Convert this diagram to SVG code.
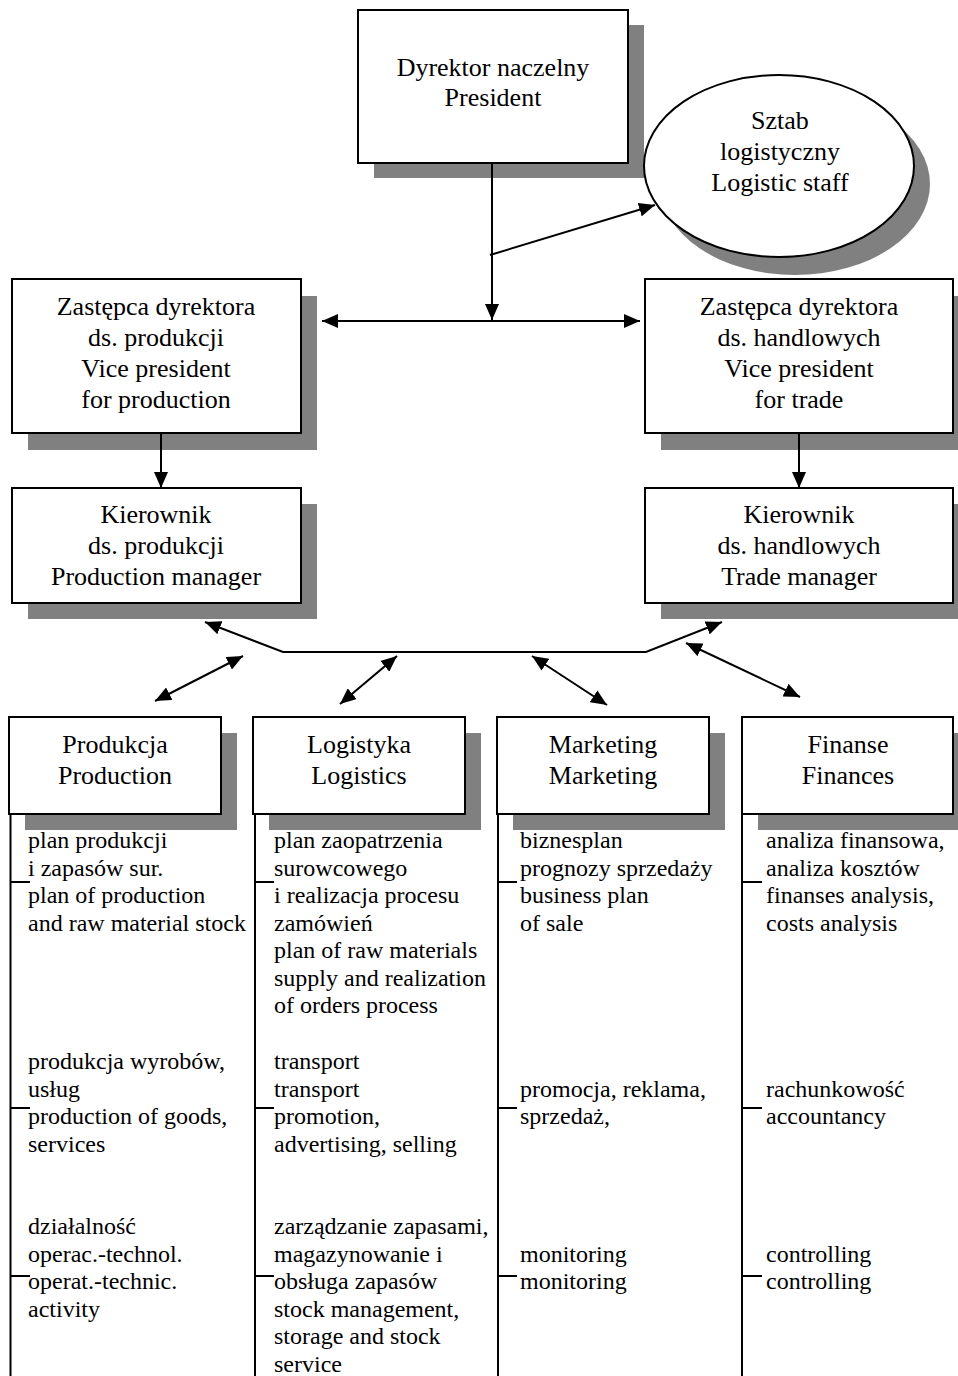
<svg xmlns="http://www.w3.org/2000/svg" width="958" height="1376" viewBox="0 0 958 1376">
<style>
.bx{fill:#fff;stroke:#000;stroke-width:2}
.sh{fill:#808080}
.t{font-family:"Liberation Serif","Times New Roman",serif;font-size:26px;fill:#000;text-anchor:middle}
.l{font-family:"Liberation Serif","Times New Roman",serif;font-size:24px;fill:#000}
.c{fill:none;stroke:#000;stroke-width:2}
</style>
<defs>
<marker id="ah" markerUnits="userSpaceOnUse" markerWidth="17" markerHeight="14" refX="16" refY="7" orient="auto-start-reverse">
<path d="M0,0 L16,7 L0,14 z" fill="#000"/>
</marker>
</defs>
<rect width="958" height="1376" fill="#fff"/>

<g id="president">
<rect class="sh" x="374" y="25" width="270" height="153"/>
<rect class="bx" x="358" y="10" width="270" height="153"/>
<text class="t" x="493" y="76">Dyrektor naczelny</text>
<text class="t" x="493" y="106">President</text>
</g>

<g id="staff">
<ellipse class="sh" cx="795" cy="184" rx="135" ry="91"/>
<ellipse class="bx" cx="779" cy="166" rx="135" ry="91"/>
<text class="t" x="780" y="129">Sztab</text>
<text class="t" x="780" y="160">logistyczny</text>
<text class="t" x="780" y="191">Logistic staff</text>
</g>

<g id="vp-production">
<rect class="sh" x="28" y="296" width="289" height="154"/>
<rect class="bx" x="12" y="279" width="289" height="154"/>
<text class="t" x="156" y="315">Zastępca dyrektora</text>
<text class="t" x="156" y="346">ds. produkcji</text>
<text class="t" x="156" y="377">Vice president</text>
<text class="t" x="156" y="408">for production</text>
</g>

<g id="vp-trade">
<rect class="sh" x="661" y="296" width="308" height="154"/>
<rect class="bx" x="645" y="279" width="308" height="154"/>
<text class="t" x="799" y="315">Zastępca dyrektora</text>
<text class="t" x="799" y="346">ds. handlowych</text>
<text class="t" x="799" y="377">Vice president</text>
<text class="t" x="799" y="408">for trade</text>
</g>

<g id="production-manager">
<rect class="sh" x="28" y="504" width="289" height="115"/>
<rect class="bx" x="12" y="488" width="289" height="115"/>
<text class="t" x="156" y="523">Kierownik</text>
<text class="t" x="156" y="554">ds. produkcji</text>
<text class="t" x="156" y="585">Production manager</text>
</g>

<g id="trade-manager">
<rect class="sh" x="661" y="504" width="308" height="115"/>
<rect class="bx" x="645" y="488" width="308" height="115"/>
<text class="t" x="799" y="523">Kierownik</text>
<text class="t" x="799" y="554">ds. handlowych</text>
<text class="t" x="799" y="585">Trade manager</text>
</g>

<g id="produkcja">
<rect class="sh" x="25" y="733" width="212" height="97"/>
<rect class="bx" x="9" y="717" width="212" height="97"/>
<text class="t" x="115" y="753">Produkcja</text>
<text class="t" x="115" y="784">Production</text>
<path class="c" d="M10.5,814 V1376 M10.5,882 H30 M10.5,1108 H30 M10.5,1276 H30"/>
<text class="l" x="28" y="848">plan produkcji</text>
<text class="l" x="28" y="876">i zapasów sur.</text>
<text class="l" x="28" y="903">plan of production</text>
<text class="l" x="28" y="931">and raw material stock</text>
<text class="l" x="28" y="1069">produkcja wyrobów,</text>
<text class="l" x="28" y="1097">usług</text>
<text class="l" x="28" y="1124">production of goods,</text>
<text class="l" x="28" y="1152">services</text>
<text class="l" x="28" y="1234">działalność</text>
<text class="l" x="28" y="1262">operac.-technol.</text>
<text class="l" x="28" y="1289">operat.-technic.</text>
<text class="l" x="28" y="1317">activity</text>
</g>

<g id="logistyka">
<rect class="sh" x="269" y="733" width="212" height="97"/>
<rect class="bx" x="253" y="717" width="212" height="97"/>
<text class="t" x="359" y="753">Logistyka</text>
<text class="t" x="359" y="784">Logistics</text>
<path class="c" d="M255,814 V1376 M255,882 H274 M255,1108 H274 M255,1276 H274"/>
<text class="l" x="274" y="848">plan zaopatrzenia</text>
<text class="l" x="274" y="876">surowcowego</text>
<text class="l" x="274" y="903">i realizacja procesu</text>
<text class="l" x="274" y="931">zamówień</text>
<text class="l" x="274" y="958">plan of raw materials</text>
<text class="l" x="274" y="986">supply and realization</text>
<text class="l" x="274" y="1013">of orders process</text>
<text class="l" x="274" y="1069">transport</text>
<text class="l" x="274" y="1097">transport</text>
<text class="l" x="274" y="1124">promotion,</text>
<text class="l" x="274" y="1152">advertising, selling</text>
<text class="l" x="274" y="1234">zarządzanie zapasami,</text>
<text class="l" x="274" y="1262">magazynowanie i</text>
<text class="l" x="274" y="1289">obsługa zapasów</text>
<text class="l" x="274" y="1317">stock management,</text>
<text class="l" x="274" y="1344">storage and stock</text>
<text class="l" x="274" y="1372">service</text>
</g>

<g id="marketing">
<rect class="sh" x="513" y="733" width="212" height="97"/>
<rect class="bx" x="497" y="717" width="212" height="97"/>
<text class="t" x="603" y="753">Marketing</text>
<text class="t" x="603" y="784">Marketing</text>
<path class="c" d="M498,814 V1376 M498,882 H517 M498,1108 H517 M498,1276 H517"/>
<text class="l" x="520" y="848">biznesplan</text>
<text class="l" x="520" y="876">prognozy sprzedaży</text>
<text class="l" x="520" y="903">business plan</text>
<text class="l" x="520" y="931">of sale</text>
<text class="l" x="520" y="1097">promocja, reklama,</text>
<text class="l" x="520" y="1124">sprzedaż,</text>
<text class="l" x="520" y="1262">monitoring</text>
<text class="l" x="520" y="1289">monitoring</text>
</g>

<g id="finanse">
<rect class="sh" x="758" y="733" width="212" height="97"/>
<rect class="bx" x="742" y="717" width="211" height="97"/>
<text class="t" x="848" y="753">Finanse</text>
<text class="t" x="848" y="784">Finances</text>
<path class="c" d="M742,814 V1376 M742,882 H762 M742,1108 H762 M742,1276 H762"/>
<text class="l" x="766" y="848">analiza finansowa,</text>
<text class="l" x="766" y="876">analiza kosztów</text>
<text class="l" x="766" y="903">finanses analysis,</text>
<text class="l" x="766" y="931">costs analysis</text>
<text class="l" x="766" y="1097">rachunkowość</text>
<text class="l" x="766" y="1124">accountancy</text>
<text class="l" x="766" y="1262">controlling</text>
<text class="l" x="766" y="1289">controlling</text>
</g>

<g id="connectors">
<line class="c" x1="492" y1="163" x2="492" y2="320" marker-end="url(#ah)"/>
<line class="c" x1="490" y1="255" x2="655" y2="205" marker-end="url(#ah)"/>
<line class="c" x1="322" y1="321" x2="640" y2="321" marker-start="url(#ah)" marker-end="url(#ah)"/>
<line class="c" x1="161" y1="433" x2="161" y2="488" marker-end="url(#ah)"/>
<line class="c" x1="799" y1="433" x2="799" y2="488" marker-end="url(#ah)"/>
<polyline class="c" points="205,622 283,652 646,652 722,622" marker-start="url(#ah)" marker-end="url(#ah)"/>
<line class="c" x1="155" y1="701" x2="243" y2="656" marker-start="url(#ah)" marker-end="url(#ah)"/>
<line class="c" x1="340" y1="704" x2="397" y2="656" marker-start="url(#ah)" marker-end="url(#ah)"/>
<line class="c" x1="532" y1="656" x2="607" y2="705" marker-start="url(#ah)" marker-end="url(#ah)"/>
<line class="c" x1="686" y1="643" x2="800" y2="697" marker-start="url(#ah)" marker-end="url(#ah)"/>
</g>
</svg>
